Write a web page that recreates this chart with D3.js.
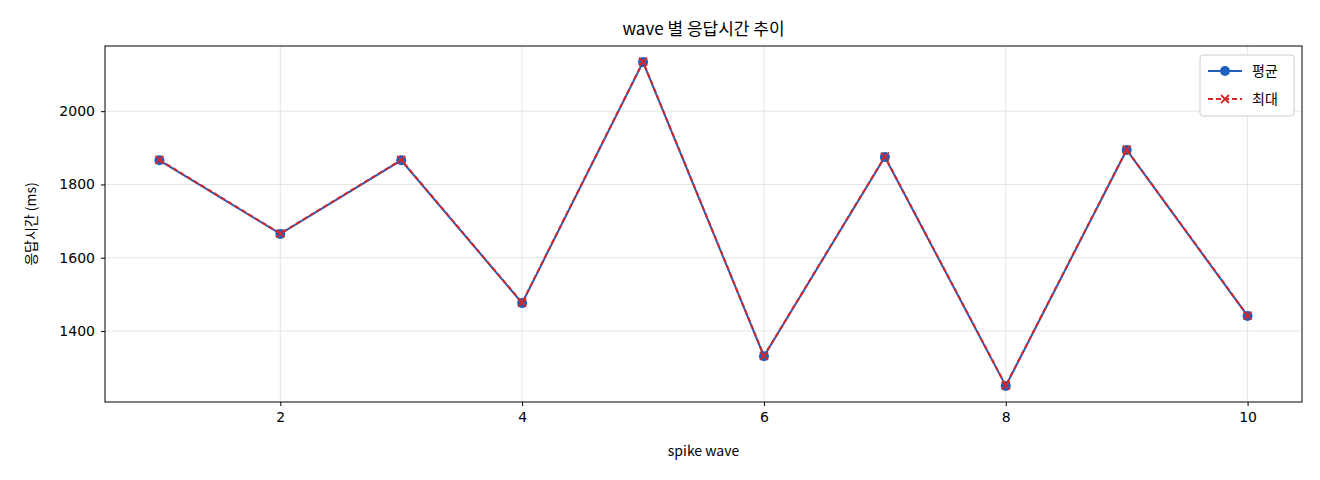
<!DOCTYPE html>
<html><head><meta charset="utf-8">
<script src="https://cdn.jsdelivr.net/npm/d3@7"></script>
<style>body{margin:0;background:#fff;font-family:"Noto Sans CJK KR","DejaVu Sans",sans-serif;}</style>
</head><body><svg id="c" width="1320" height="480"></svg>
<script>
const waves=[1,2,3,4,5,6,7,8,9,10];
const avgVals=[1866,1665,1866,1476,2134,1331,1875,1250,1894,1441];
const maxVals=[1867,1666,1867,1477,2135,1332,1876,1251,1895,1442];
const xTicks=[2,4,6,8,10];
const yTicks=[1400,1600,1800,2000];
const svg=d3.select("#c");
const L=105,R=1302,T=46,B=402;
const x=d3.scaleLinear().domain([0.55,10.45]).range([L,R]);
const y=d3.scaleLinear().domain([1206,2178]).range([B,T]);
const g=svg.append("g");
g.selectAll(".gx").data(xTicks).join("line").attr("x1",d=>x(d)).attr("x2",d=>x(d)).attr("y1",T).attr("y2",B).attr("stroke","#e5e5e5");
g.selectAll(".gy").data(yTicks).join("line").attr("y1",d=>y(d)).attr("y2",d=>y(d)).attr("x1",L).attr("x2",R).attr("stroke","#e5e5e5");
svg.append("g").attr("transform",`translate(0,${B})`).call(d3.axisBottom(x).tickValues(xTicks).tickFormat(d3.format("d")).tickSize(4).tickPadding(6)).call(a=>{a.select(".domain").remove();a.selectAll("text").attr("font-size",14).attr("fill","#000").attr("font-family","DejaVu Sans");});
svg.append("g").attr("transform",`translate(${L},0)`).call(d3.axisLeft(y).tickValues(yTicks).tickFormat(d3.format("d")).tickSize(4).tickPadding(6)).call(a=>{a.select(".domain").remove();a.selectAll("text").attr("font-size",14).attr("fill","#000").attr("font-family","DejaVu Sans");});
svg.append("rect").attr("x",L).attr("y",T).attr("width",R-L).attr("height",B-T).attr("fill","none").attr("stroke","#000");
const line=d3.line().x((d,i)=>x(waves[i])).y(d=>y(d));
svg.append("path").datum(avgVals).attr("d",line).attr("fill","none").attr("stroke","#1f5fbf").attr("stroke-width",2);
svg.selectAll(".pa").data(avgVals).join("circle").attr("cx",(d,i)=>x(waves[i])).attr("cy",d=>y(d)).attr("r",5).attr("fill","#1f5fbf");
svg.append("path").datum(maxVals).attr("d",line).attr("fill","none").attr("stroke","#d62728").attr("stroke-width",2).attr("stroke-dasharray","5,3");
const cross=(sel,cx,cy,s)=>sel.append("path").attr("d",`M${cx-s},${cy-s}L${cx+s},${cy+s}M${cx-s},${cy+s}L${cx+s},${cy-s}`).attr("stroke","#d62728").attr("stroke-width",1.8);
maxVals.forEach((d,i)=>cross(svg,x(waves[i]),y(d),4));
const lg=svg.append("g").attr("transform","translate(1200,55)");
lg.append("rect").attr("width",94).attr("height",61).attr("rx",3).attr("fill","#fff").attr("stroke","#ccc");
lg.append("line").attr("x1",8).attr("x2",42).attr("y1",16).attr("y2",16).attr("stroke","#1f5fbf").attr("stroke-width",2);
lg.append("circle").attr("cx",25).attr("cy",16).attr("r",5).attr("fill","#1f5fbf");
lg.append("text").attr("x",52).attr("y",21).attr("font-size",14).text("평균");
lg.append("line").attr("x1",8).attr("x2",42).attr("y1",44).attr("y2",44).attr("stroke","#d62728").attr("stroke-width",2).attr("stroke-dasharray","5,3");
cross(lg,25,44,4);
lg.append("text").attr("x",52).attr("y",49).attr("font-size",14).text("최대");
svg.append("text").attr("x",(L+R)/2).attr("y",35).attr("text-anchor","middle").attr("font-size",17).text("wave 별 응답시간 추이");
svg.append("text").attr("x",(L+R)/2).attr("y",456).attr("text-anchor","middle").attr("font-size",14).text("spike wave");
svg.append("text").attr("transform",`translate(36,${(T+B)/2}) rotate(-90)`).attr("text-anchor","middle").attr("font-size",14).text("응답시간 (ms)");
</script></body></html>
